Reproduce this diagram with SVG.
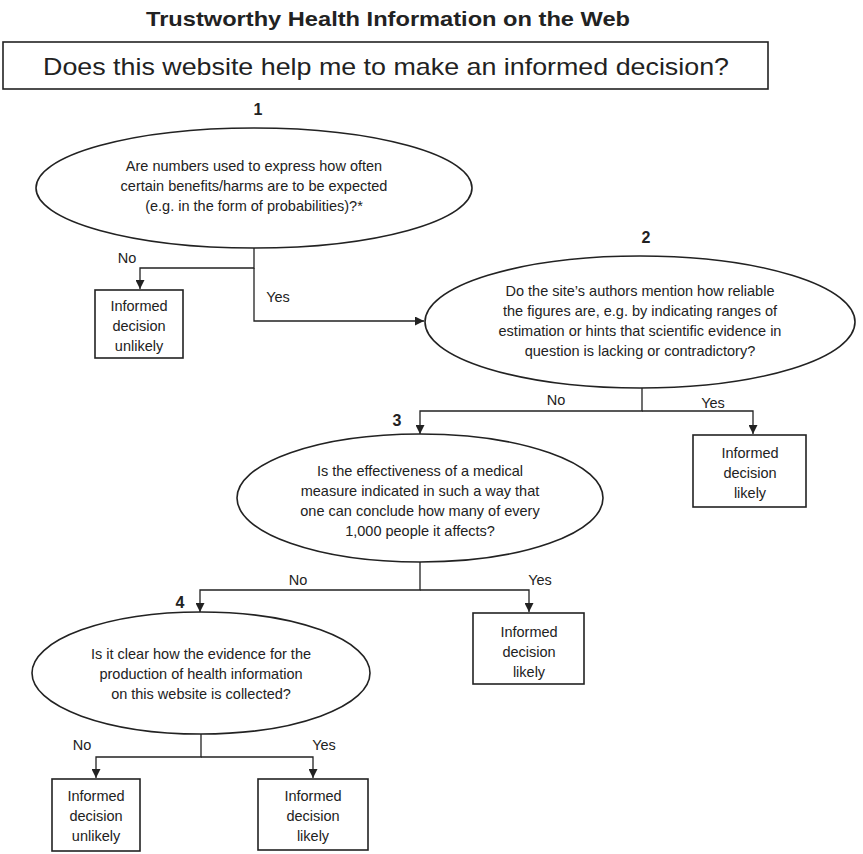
<svg xmlns="http://www.w3.org/2000/svg" width="863" height="854" viewBox="0 0 863 854">
<defs>
<marker id="arr" viewBox="0 0 10 10" refX="10" refY="5" markerWidth="9" markerHeight="9" markerUnits="userSpaceOnUse" orient="auto">
<path d="M0,0 L10,5 L0,10 Z" fill="#222"/>
</marker>
<style>
text{font-family:"Liberation Sans",Arial,sans-serif;fill:#222;text-anchor:middle}
.t{font-size:14.5px}
.lbl{font-size:14.5px}
.num{font-size:16px;font-weight:bold}
.shape{fill:#fff;stroke:#222;stroke-width:1.6}
.conn{fill:none;stroke:#222;stroke-width:1.3}
</style>
</defs>
<rect width="863" height="854" fill="#fff"/>
<text x="388" y="26" style="font-size:21px;font-weight:bold" textLength="484" lengthAdjust="spacingAndGlyphs">Trustworthy Health Information on the Web</text>
<g id="header">
<rect x="3" y="42" width="765" height="47" class="shape"/>
<text x="386" y="75" style="font-size:24px" textLength="686" lengthAdjust="spacingAndGlyphs">Does this website help me to make an informed decision?</text>
</g>
<g id="q1">
<text x="258" y="115" class="num">1</text>
<ellipse cx="254" cy="188" rx="218" ry="60" class="shape"/>
<text x="254" y="171" class="t">Are numbers used to express how often</text>
<text x="254" y="191" class="t">certain benefits/harms are to be expected</text>
<text x="254" y="211" class="t">(e.g. in the form of probabilities)?*</text>
</g>
<g id="r1">
<rect x="95" y="290" width="88" height="68" class="shape"/>
<text x="139" y="311" class="t">Informed</text>
<text x="139" y="331" class="t">decision</text>
<text x="139" y="351" class="t">unlikely</text>
</g>
<g id="q2">
<text x="646" y="243" class="num">2</text>
<ellipse cx="640" cy="322" rx="215" ry="66" class="shape"/>
<text x="640" y="296" class="t">Do the site’s authors mention how reliable</text>
<text x="640" y="316" class="t">the figures are, e.g. by indicating ranges of</text>
<text x="640" y="336" class="t">estimation or hints that scientific evidence in</text>
<text x="640" y="356" class="t">question is lacking or contradictory?</text>
</g>
<g id="r2">
<rect x="693" y="435" width="113" height="72" class="shape"/>
<text x="750" y="458" class="t">Informed</text>
<text x="750" y="478" class="t">decision</text>
<text x="750" y="498" class="t">likely</text>
</g>
<g id="q3">
<text x="397" y="426" class="num">3</text>
<ellipse cx="420" cy="498" rx="183" ry="64" class="shape"/>
<text x="420" y="476" class="t">Is the effectiveness of a medical</text>
<text x="420" y="496" class="t">measure indicated in such a way that</text>
<text x="420" y="516" class="t">one can conclude how many of every</text>
<text x="420" y="536" class="t">1,000 people it affects?</text>
</g>
<g id="r3">
<rect x="473" y="613" width="111" height="71" class="shape"/>
<text x="529" y="637" class="t">Informed</text>
<text x="529" y="657" class="t">decision</text>
<text x="529" y="677" class="t">likely</text>
</g>
<g id="q4">
<text x="180" y="608" class="num">4</text>
<ellipse cx="201" cy="673" rx="169" ry="61" class="shape"/>
<text x="201" y="659" class="t">Is it clear how the evidence for the</text>
<text x="201" y="679" class="t">production of health information</text>
<text x="201" y="699" class="t">on this website is collected?</text>
</g>
<g id="r4">
<rect x="52" y="779" width="88" height="72" class="shape"/>
<text x="96" y="801" class="t">Informed</text>
<text x="96" y="821" class="t">decision</text>
<text x="96" y="841" class="t">unlikely</text>
</g>
<g id="r5">
<rect x="258" y="779" width="110" height="71" class="shape"/>
<text x="313" y="801" class="t">Informed</text>
<text x="313" y="821" class="t">decision</text>
<text x="313" y="841" class="t">likely</text>
</g>
<g id="connectors">
<path d="M254,248 V268 H140 V289" class="conn" marker-end="url(#arr)"/>
<path d="M254,268 V321 H424" class="conn" marker-end="url(#arr)"/>
<path d="M642,388 V411 H420 V434" class="conn" marker-end="url(#arr)"/>
<path d="M642,411 H753 V434" class="conn" marker-end="url(#arr)"/>
<path d="M420,562 V590 H200 V612" class="conn" marker-end="url(#arr)"/>
<path d="M420,590 H529 V612" class="conn" marker-end="url(#arr)"/>
<path d="M201,734 V757 H96 V778" class="conn" marker-end="url(#arr)"/>
<path d="M201,757 H313 V778" class="conn" marker-end="url(#arr)"/>
<text x="127" y="263" class="lbl">No</text>
<text x="278" y="302" class="lbl">Yes</text>
<text x="556" y="405" class="lbl">No</text>
<text x="713" y="408" class="lbl">Yes</text>
<text x="298" y="585" class="lbl">No</text>
<text x="540" y="585" class="lbl">Yes</text>
<text x="82" y="750" class="lbl">No</text>
<text x="324" y="750" class="lbl">Yes</text>
</g>
</svg>
